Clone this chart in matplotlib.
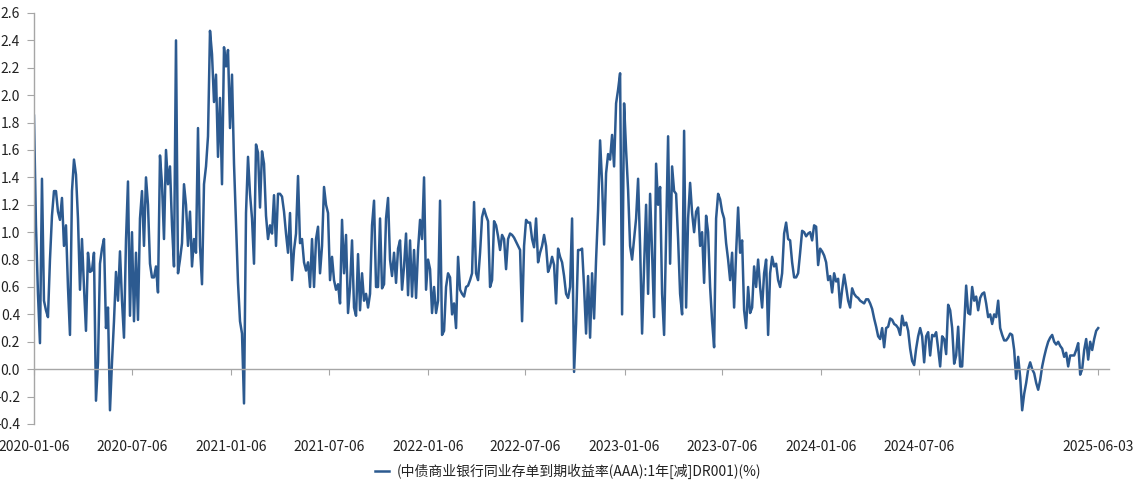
import matplotlib
matplotlib.use('Agg')
import matplotlib.pyplot as plt
import pandas as pd

plt.rcParams['font.family'] = ['Noto Sans CJK SC', 'DejaVu Sans']
plt.rcParams['axes.unicode_minus'] = False

series_name = '(中债商业银行同业存单到期收益率(AAA):1年[减]DR001)(%)'
start_date = '2020-01-06'
end_date = '2025-06-03'
tick_dates = ['2020-01-06', '2020-07-06', '2021-01-06', '2021-07-06',
              '2022-01-06', '2022-07-06', '2023-01-06', '2023-07-06',
              '2024-01-06', '2024-07-06', '2025-06-03']
y_ticks = [-0.4, -0.2, 0.0, 0.2, 0.4, 0.6, 0.8, 1.0, 1.2, 1.4,
           1.6, 1.8, 2.0, 2.2, 2.4, 2.6]

# spread values (%), evenly spaced over the period
spread_2020 = [
    1.85, 1.05, 0.55, 0.19, 1.39, 0.50, 0.43, 0.38, 0.80, 1.12,
    1.30, 1.30, 1.15, 1.09, 1.25, 0.90, 1.05, 0.60, 0.25, 1.30,
    1.53, 1.42, 1.10, 0.58, 0.95, 0.60, 0.28, 0.85, 0.71, 0.72,
    0.85, -0.23, 0.05, 0.77, 0.88, 0.95, 0.30, 0.45, -0.30, 0.05,
    0.35, 0.71, 0.50, 0.86, 0.50, 0.23, 0.94, 1.37, 0.39, 1.00,
    0.35, 0.85, 0.36, 1.10, 1.30, 0.90, 1.40, 1.20, 0.77, 0.67,
    0.67, 0.75, 0.56, 1.56, 1.35, 0.95, 1.60, 1.35, 1.48, 1.05,
    0.75, 2.40, 0.70, 0.80, 0.92, 1.35, 1.20, 0.90, 1.15, 0.75,
    0.95, 0.85, 1.76, 0.90, 0.62, 1.35, 1.48, 1.70, 2.47, 2.30,
    1.95, 2.15, 1.55, 1.98, 1.35, 2.35, 2.21, 2.33]
spread_2021 = [
    1.76, 2.15, 1.50, 1.06, 0.63, 0.35, 0.26, -0.25, 1.14, 1.55,
    1.28, 1.10, 0.77, 1.64, 1.58, 1.18, 1.59, 1.50, 1.12, 0.95,
    1.05, 0.99, 1.27, 0.90, 1.28, 1.28, 1.26, 1.15, 0.99, 0.85,
    1.14, 0.65, 0.87, 0.99, 1.41, 0.92, 0.95, 0.78, 0.72, 0.78,
    0.60, 0.95, 0.60, 0.95, 1.04, 0.70, 0.90, 1.33, 1.20, 1.14,
    0.65, 0.82, 0.65, 0.58, 0.62, 0.48, 1.09, 0.70, 0.98, 0.41,
    0.60, 0.94, 0.45, 0.39, 0.84, 0.43, 0.70, 0.50, 0.55, 0.45,
    0.55, 1.05, 1.23, 0.60, 0.60, 1.10, 0.59, 0.62, 1.10, 1.25,
    0.80, 0.68, 0.85, 0.63, 0.88, 0.94, 0.58, 0.75, 0.99, 0.54,
    0.94, 0.53, 0.87, 0.52, 0.87, 1.09, 0.95, 1.40]
spread_2022 = [
    0.58, 0.80, 0.73, 0.41, 0.60, 0.41, 0.50, 1.23, 0.25, 0.28,
    0.60, 0.70, 0.67, 0.40, 0.48, 0.30, 0.82, 0.58, 0.55, 0.53,
    0.60, 0.61, 0.65, 0.70, 1.22, 0.70, 0.65, 0.85, 1.11, 1.17,
    1.12, 1.08, 0.60, 0.65, 1.08, 1.05, 0.97, 0.87, 0.98, 0.95,
    0.73, 0.95, 0.99, 0.98, 0.96, 0.93, 0.90, 0.87, 0.35, 0.90,
    1.09, 1.07, 1.07, 0.95, 0.89, 1.10, 0.78, 0.85, 0.90, 0.98,
    0.90, 0.71, 0.75, 0.82, 0.76, 0.48, 0.88, 0.82, 0.78, 0.68,
    0.55, 0.52, 0.60, 1.10, -0.02, 0.33, 0.87, 0.87, 0.88, 0.60,
    0.26, 0.68, 0.23, 0.70, 0.37, 0.80, 1.16, 1.67, 1.36, 0.91,
    1.43, 1.57, 1.53, 1.71, 1.48, 1.94, 2.04, 2.16]
spread_2023 = [
    0.40, 1.94, 1.60, 1.31, 0.90, 0.80, 0.95, 1.10, 1.39, 0.90,
    0.26, 0.75, 1.20, 0.55, 1.28, 0.85, 0.38, 1.50, 1.20, 1.33,
    0.55, 0.25, 0.99, 1.70, 0.77, 1.48, 1.30, 1.28, 0.95, 0.55,
    0.40, 1.74, 0.45, 1.10, 1.36, 1.14, 1.00, 1.15, 1.18, 0.90,
    1.00, 0.63, 1.12, 1.00, 0.60, 0.35, 0.16, 1.10, 1.28, 1.24,
    1.15, 1.10, 0.92, 0.80, 0.65, 0.85, 0.45, 0.85, 1.18, 0.85,
    0.94, 0.43, 0.30, 0.60, 0.41, 0.45, 0.75, 0.60, 0.80, 0.60,
    0.45, 0.70, 0.80, 0.25, 0.70, 0.82, 0.75, 0.77, 0.65, 0.60,
    0.70, 0.99, 1.07, 0.95, 0.94, 0.78, 0.67, 0.67, 0.70, 0.85,
    1.01, 1.00, 0.97, 0.99, 1.00, 0.94, 1.05, 1.04, 0.76]
spread_2024 = [
    0.88, 0.86, 0.83, 0.78, 0.65, 0.68, 0.56, 0.70, 0.64, 0.66,
    0.45, 0.58, 0.69, 0.60, 0.50, 0.45, 0.59, 0.55, 0.53, 0.52,
    0.50, 0.49, 0.48, 0.51, 0.51, 0.48, 0.44, 0.37, 0.31, 0.24,
    0.22, 0.30, 0.16, 0.30, 0.31, 0.37, 0.36, 0.33, 0.32, 0.30,
    0.25, 0.39, 0.32, 0.34, 0.28, 0.15, 0.06, 0.03, 0.15, 0.24,
    0.30, 0.24, 0.05, 0.24, 0.27, 0.10, 0.25, 0.24, 0.27, 0.15,
    0.02, 0.24, 0.22, 0.11, 0.47, 0.43, 0.30, 0.04, 0.10, 0.31,
    0.02, 0.02, 0.31, 0.61, 0.41, 0.40, 0.60, 0.50, 0.53, 0.43,
    0.52, 0.55, 0.56, 0.48, 0.38, 0.40, 0.33, 0.40, 0.38, 0.50,
    0.30, 0.25, 0.21, 0.21, 0.23, 0.26, 0.25, 0.14]
spread_2025 = [
    -0.07, 0.09, -0.06, -0.30, -0.18, -0.10, 0.00, 0.05, 0.00, -0.03,
    -0.10, -0.15, -0.08, 0.02, 0.09, 0.15, 0.20, 0.23, 0.25, 0.20,
    0.18, 0.20, 0.17, 0.15, 0.09, 0.12, 0.02, 0.10, 0.10, 0.10,
    0.14, 0.19, -0.04, 0.00, 0.14, 0.22, 0.07, 0.20, 0.14, 0.22,
    0.28, 0.30]

spread = (spread_2020 + spread_2021 + spread_2022 + spread_2023
          + spread_2024 + spread_2025)
dates = pd.date_range(start_date, end_date, periods=len(spread))

axis_grey = '#a6a6a6'
text_col = '#222222'

fig = plt.figure(figsize=(11.36, 4.83), dpi=100)
ax = fig.add_axes([0.0299, 0.1222, 0.9463, 0.8509])
ax.plot(dates, spread, color='#2c5a90', lw=1.8, label=series_name)

ax.set_ylim(-0.4, 2.6)
ax.set_xlim(pd.Timestamp(start_date),
            pd.Timestamp(end_date) + pd.Timedelta(days=20))

ax.spines['top'].set_visible(False)
ax.spines['right'].set_visible(False)
ax.spines['bottom'].set_position(('data', 0))
for side in ('left', 'bottom'):
    ax.spines[side].set_color(axis_grey)
    ax.spines[side].set_linewidth(1.0)

ax.set_yticks(y_ticks)
ax.set_yticklabels([f'{v:.1f}' for v in y_ticks])
ax.set_xticks(pd.to_datetime(tick_dates))
ax.set_xticklabels(tick_dates)
ax.tick_params(axis='y', colors=axis_grey, labelcolor=text_col,
               length=5, pad=5, labelsize=10)
ax.tick_params(axis='x', colors=axis_grey, labelcolor=text_col,
               length=4, pad=47, labelsize=10)

fig.legend(loc='lower center', bbox_to_anchor=(0.5, -0.017),
           frameon=False, fontsize=10, handlelength=1.0,
           handletextpad=0.6, labelcolor=text_col)

fig.savefig('out.png', dpi=100)
